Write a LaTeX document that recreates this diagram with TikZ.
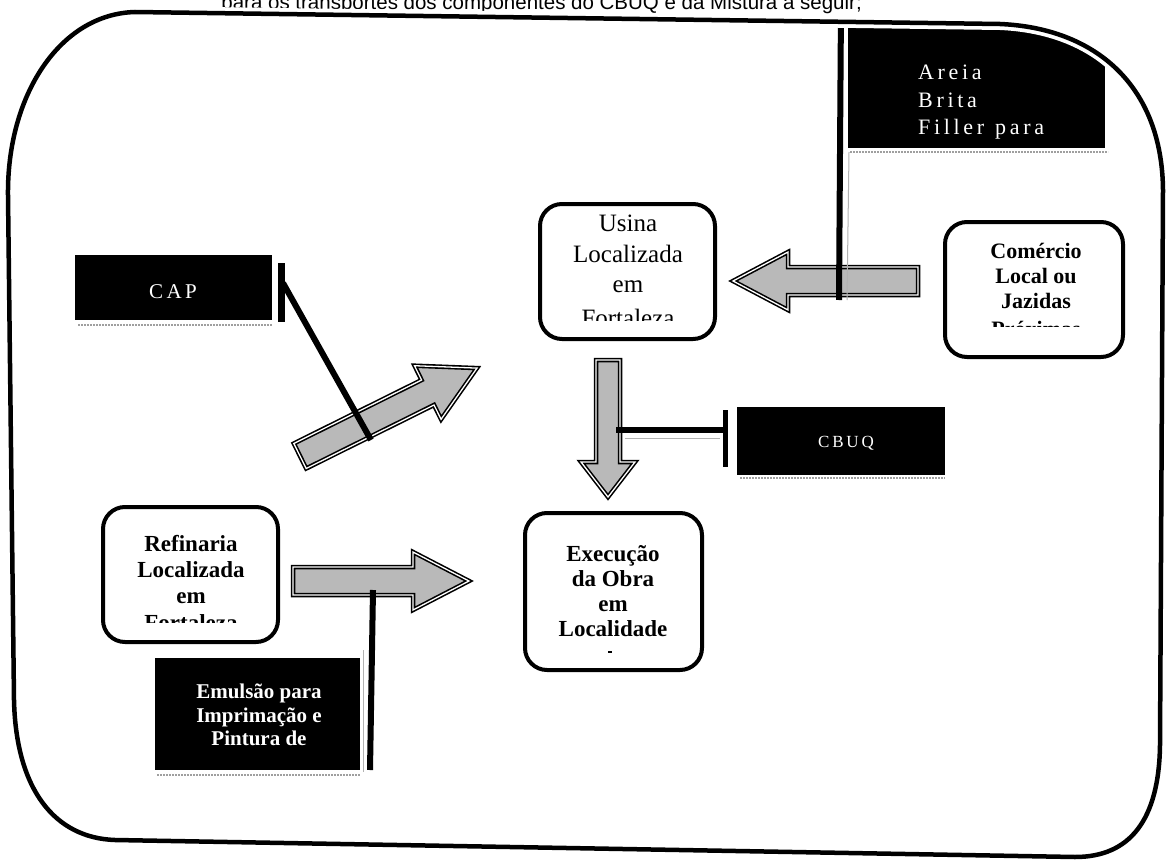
\documentclass[tikz,border=0pt]{standalone}
\usepackage{fontspec}
\setmainfont{Liberation Serif}
\newfontfamily\arialf{Liberation Sans}
\begin{document}
\begin{tikzpicture}[x=1pt,y=-1pt,
  rbox/.style={draw=black, line width=4pt, rounded corners=22pt, fill=white, inner sep=0pt},
  bbox/.style={fill=black, draw=none, inner sep=0pt},
  accent/.style={draw=black, line width=7pt},
  shadowln/.style={draw=gray!75, line width=1.6pt, dash pattern=on 2pt off 1pt},
  thinln/.style={draw=gray!60, line width=1pt},
  leader/.style={draw=black, line width=6pt},
  barrow/.style={fill=gray!55, draw=black, line width=4.5pt, line join=miter,
     postaction={draw=white, line width=1.3pt}},
  hdr/.style={anchor=base east, inner sep=0pt, font=\arialf\fontsize{20.5}{24}\selectfont},
  ut/.style={anchor=base, inner sep=0pt, font=\fontsize{25}{30}\selectfont},
  rt/.style={anchor=base, inner sep=0pt, font=\bfseries\fontsize{23}{26}\selectfont},
  ct/.style={anchor=base, inner sep=0pt, font=\bfseries\fontsize{22}{25}\selectfont},
  wt/.style={anchor=base, inner sep=0pt, text=white, font=\fontsize{22}{27}\selectfont},
  wbt/.style={anchor=base, inner sep=0pt, text=white, font=\bfseries\fontsize{21}{24}\selectfont},
]
\useasboundingbox (0,0) rectangle (1170,867);
\clip (0,0) rectangle (1170,867);
\fill[white] (0,0) rectangle (1170,867);

% header line (cut at top)
\node[hdr] (header) at (862,10) {para os transportes dos componentes do CBUQ e da Mistura a seguir;};

% ---------- block arrows ----------
% Comercio -> Usina (left)
\draw[barrow] (918,267) -- (788,267) -- (788,252) -- (733,281) -- (788,310) -- (788,295) -- (918,295) -- cycle;
% Usina -> Execucao (down)
\draw[barrow] (596,360) -- (620,360) -- (620,462) -- (635,462) -- (608,497) -- (581,462) -- (596,462) -- cycle;
% Refinaria -> Execucao (right)
\draw[barrow] (293,567) -- (413,567) -- (413,552) -- (469,581) -- (413,610) -- (413,595) -- (293,595) -- cycle;
% CAP diagonal arrow
\draw[barrow] (293.8,443.5) -- (421.6,380.0) -- (414.5,365.7) -- (477.0,368.1) -- (441.1,419.3) -- (434.0,405.0) -- (306.2,468.5) -- cycle;

% ---------- black callout boxes ----------
\begin{scope}
  \clip (135,12) -- (1000,24) .. controls (1095,28) and (1162,85) .. (1163,190)
    -- (1160,745) .. controls (1159,820) and (1130,857) .. (1075,857)
    -- (115,840) .. controls (55,838) and (16,790) .. (14,700)
    -- (8,195) .. controls (7,95) and (60,14) .. (135,12) -- cycle;
  \node[bbox, minimum width=257pt, minimum height=143pt] (areia) at (976.5,76.5) {};
  \coordinate (areiaTop) at (841,5);
  \coordinate (areiaEnd) at (839,300);
  \draw[leader] (areiaTop) -- (areiaEnd);
\end{scope}
\draw[shadowln] (850,152) -- (1108,152);
\node[wt, anchor=base west] (areia1) at (918,80) {A\,r\,e\,i\,a};
\node[wt, anchor=base west] (areia2) at (918,107) {B\,r\,i\,t\,a};
\node[wt, anchor=base west] (areia3) at (918,134) {F\,i\,l\,l\,e\,r\ \ p\,a\,r\,a};
\draw[thinln] (849,152) -- (847,300);

\node[bbox, minimum width=197pt, minimum height=65pt] (cap) at (173.5,287.5) {};
\draw[shadowln] (78,325) -- (272,325);
\node[wt, font=\fontsize{21}{25}\selectfont] (captxt) at (173,298) {C\,A\,P};
\coordinate (capBarTop) at (281,263);
\coordinate (capBarBot) at (281,322);
\draw[accent] (capBarTop) -- (capBarBot);
\coordinate (capLeadA) at (283,283);
\coordinate (capLeadB) at (371,440);
\draw[leader] (capLeadA) -- (capLeadB);

\node[bbox, minimum width=208pt, minimum height=68pt] (cbuq) at (841,441) {};
\draw[shadowln] (740,478) -- (945,478);
\node[wt, font=\fontsize{17}{20}\selectfont] (cbuqtxt) at (846,447) {C\,B\,U\,Q};
\coordinate (cbuqBarTop) at (725,410);
\coordinate (cbuqBarBot) at (725,467);
\draw[draw=black, line width=5pt] (cbuqBarTop) -- (cbuqBarBot);
\coordinate (cbuqLeadEnd) at (616,430);
\draw[leader] (cbuqBarTop |- cbuqLeadEnd) -- (cbuqLeadEnd);
\draw[thinln] (625,438) -- (720,438);

\node[bbox, minimum width=205pt, minimum height=112pt] (emul) at (257.5,714) {};
\draw[shadowln] (157,775) -- (360,775);
\node[wbt] (emul1) at (259,698) {Emulsão para};
\node[wbt] (emul2) at (259,722) {Imprimação e};
\node[wbt] (emul3) at (259,745) {Pintura de};
\coordinate (emulBot) at (370,770);
\coordinate (emulTop) at (373,590);
\draw[leader] (emulBot) -- (emulTop);
\draw[thinln] (363,650) -- (363,772);

% ---------- rounded boxes ----------
\node[rbox, minimum width=175pt, minimum height=135pt] (usina) at (627.5,271.5) {};
\begin{scope}
  \clip (545,208) rectangle (712,320);
  \node[ut] (usina1) at (628,231) {Usina};
  \node[ut] (usina2) at (628,262) {Localizada};
  \node[ut] (usina3) at (628,292) {em};
  \node[ut] (usina4) at (628,326) {Fortaleza};
\end{scope}

\node[rbox, minimum width=178pt, minimum height=135pt] (comercio) at (1034,289.5) {};
\begin{scope}
  \clip (950,226) rectangle (1118,326);
  \node[ct] (com1) at (1036,258) {Comércio};
  \node[ct] (com2) at (1036,283) {Local ou};
  \node[ct] (com3) at (1036,308) {Jazidas};
  \node[ct] (com4) at (1036,336) {Próximas};
\end{scope}

\node[rbox, minimum width=175pt, minimum height=135pt] (refinaria) at (190.5,574.5) {};
\begin{scope}
  \clip (108,511) rectangle (274,622);
  \node[rt] (ref1) at (191,551) {Refinaria};
  \node[rt] (ref2) at (191,577) {Localizada};
  \node[rt] (ref3) at (191,603) {em};
  \node[rt] (ref4) at (191,630) {Fortaleza};
\end{scope}

\node[rbox, minimum width=177pt, minimum height=157pt] (execucao) at (613.5,591.5) {};
\node[rt] (exe1) at (613,561) {Execução};
\node[rt] (exe2) at (613,586) {da Obra};
\node[rt] (exe3) at (613,611) {em};
\node[rt] (exe4) at (613,636) {Localidade};
\coordinate (exeDotA) at (608,652);
\coordinate (exeDotB) at (612,652);
\draw[line width=1.5pt] (exeDotA) -- (exeDotB);

% ---------- outer rounded frame ----------
\draw[line width=4.5pt, line join=round, preaction={draw=white, line width=12pt}]
  (135,12) -- (1000,24) .. controls (1095,28) and (1162,85) .. (1163,190)
  -- (1160,745) .. controls (1159,820) and (1130,857) .. (1075,857)
  -- (115,840) .. controls (55,838) and (16,790) .. (14,700)
  -- (8,195) .. controls (7,95) and (60,14) .. (135,12) -- cycle;
\end{tikzpicture}
\end{document}
